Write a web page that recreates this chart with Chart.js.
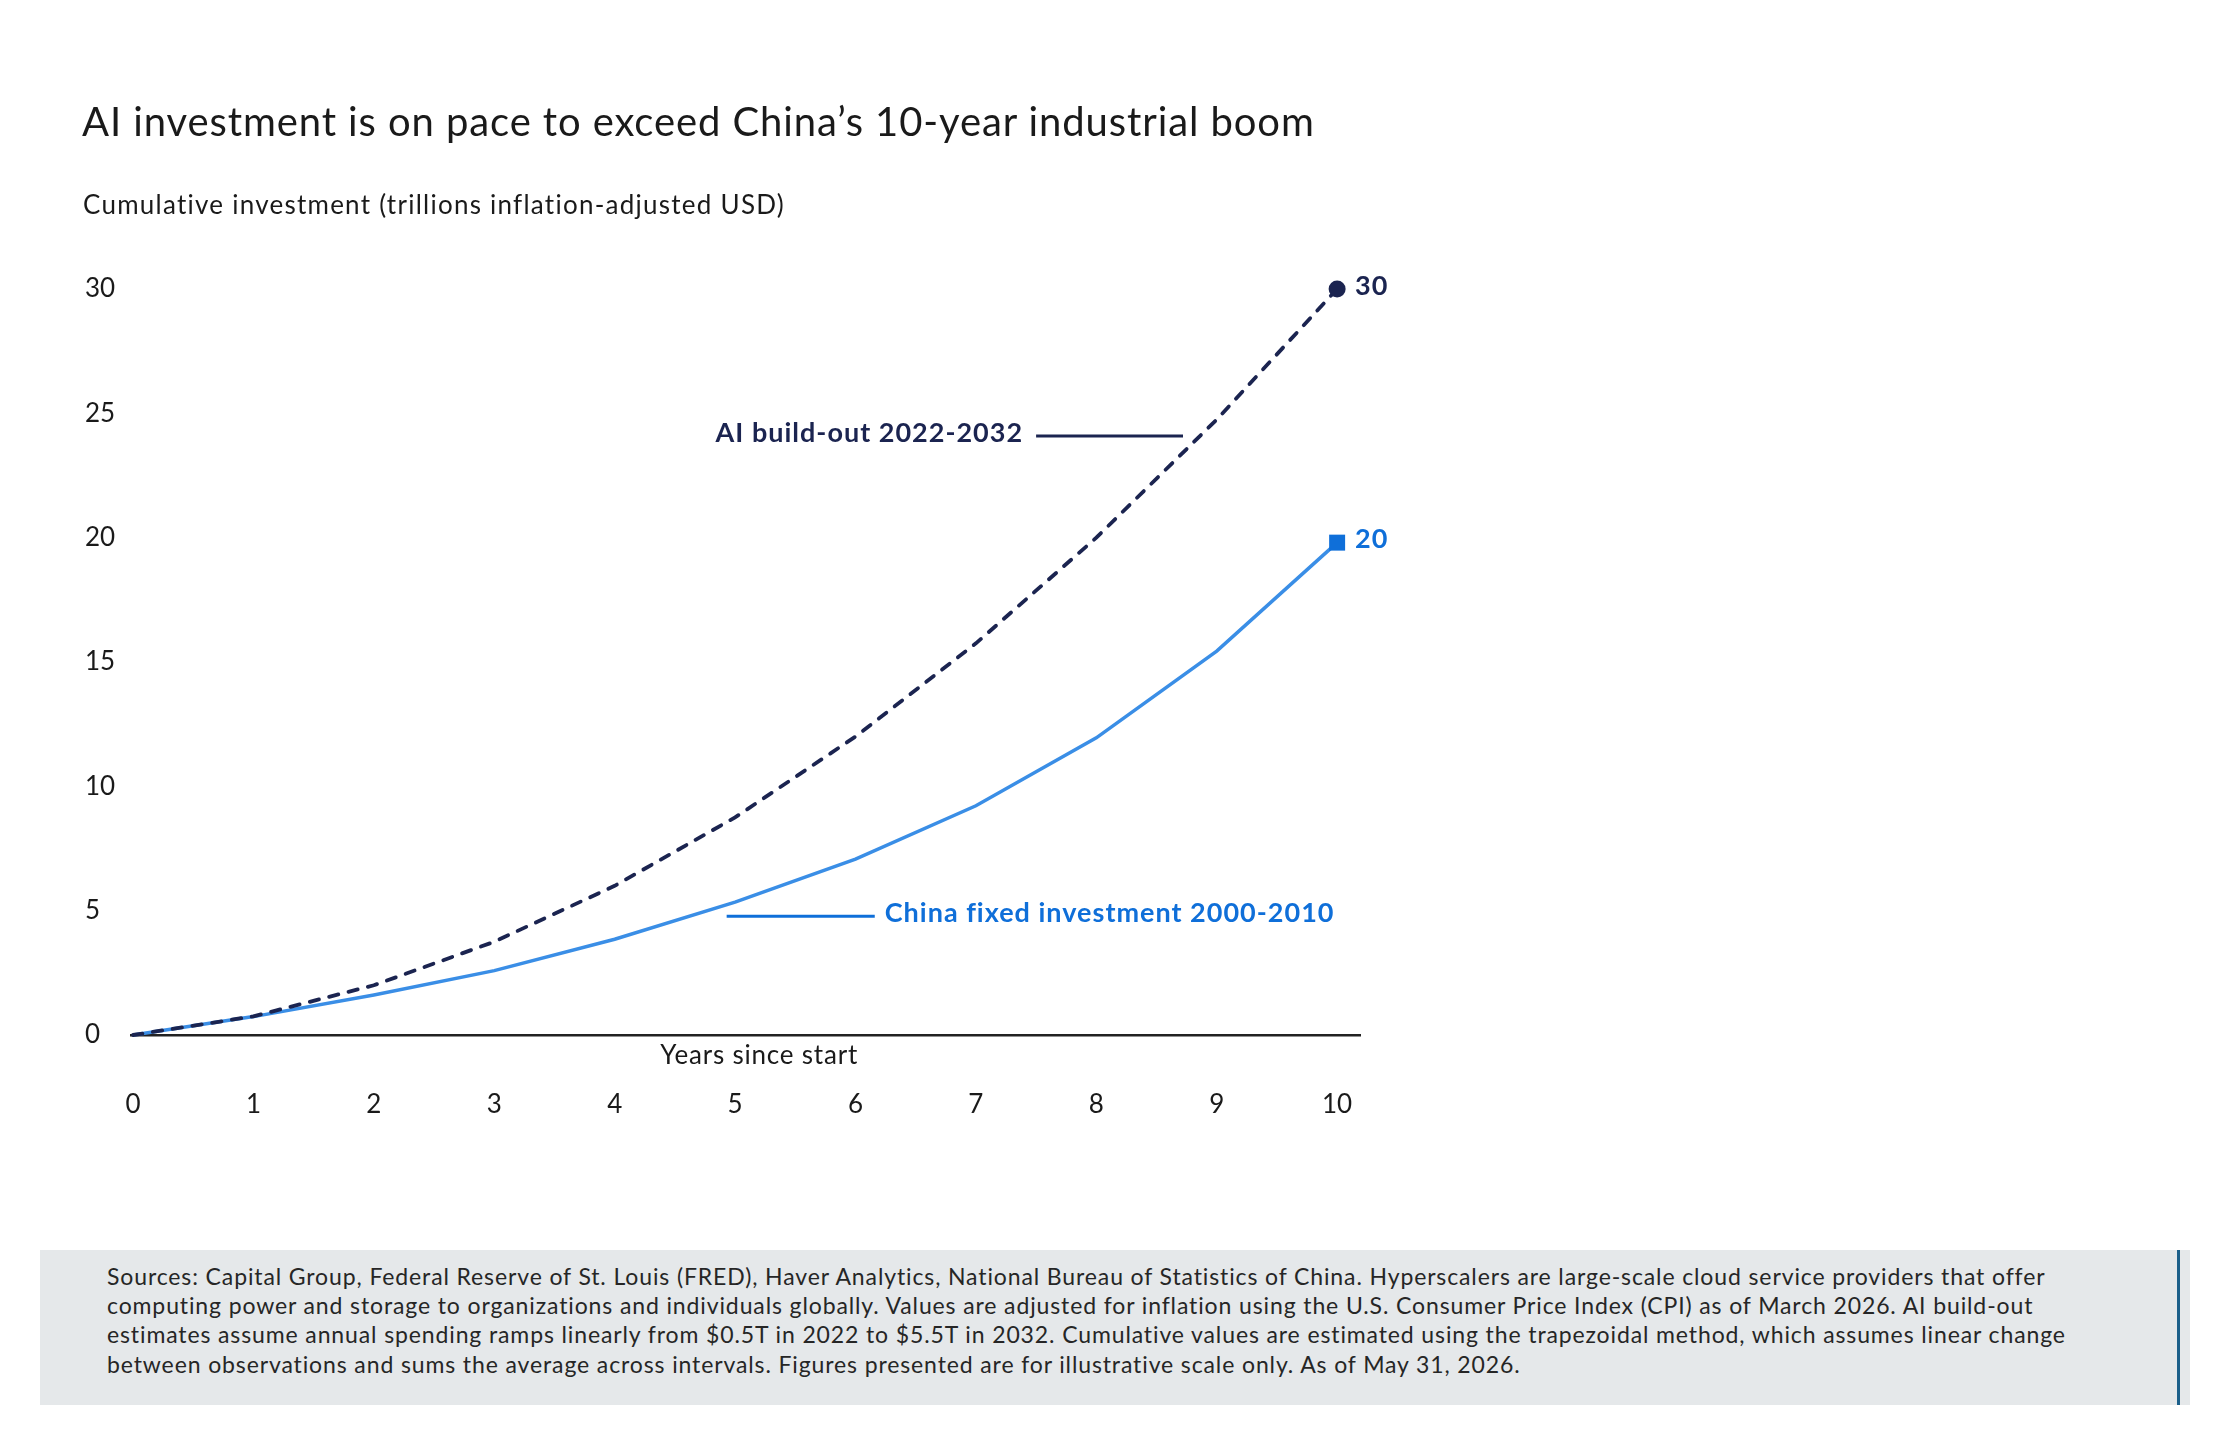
<!DOCTYPE html>
<html>
<head>
<meta charset="utf-8">
<script src="https://cdn.jsdelivr.net/npm/chart.js@4.4.1/dist/chart.umd.min.js"></script>
<style>
  html, body { margin:0; padding:0; background:#ffffff; }
  body { width:2230px; height:1445px; position:relative; overflow:hidden; font-family: Lato, "Noto Sans", sans-serif; }
  #chart { position:absolute; left:0; top:0; }
  #title { position:absolute; left:82px; top:94px; font-size:40px; letter-spacing:0.9px; color:#1a1a1a; white-space:nowrap; line-height:54px; }
  #subtitle { position:absolute; left:83px; top:188px; font-size:26px; letter-spacing:1.25px; color:#1a1a1a; white-space:nowrap; line-height:32px; }
  #footer { position:absolute; left:40px; top:1250px; width:2150px; height:155px; background:#e5e8ea; }
  #footer .txt { position:absolute; left:67px; top:12px; font-size:23px; letter-spacing:0.88px; line-height:29.2px; color:#262626; white-space:nowrap; }
  #footer .bar { position:absolute; left:2137px; top:0; width:3px; height:155px; background:#1b5f8a; }
</style>
</head>
<body>
<canvas id="chart" width="2230" height="1445"></canvas>
<div id="title">AI investment is on pace to exceed China’s 10-year industrial boom</div>
<div id="subtitle">Cumulative investment (trillions inflation-adjusted USD)</div>
<div id="footer">
  <div class="txt">Sources: Capital Group, Federal Reserve of St. Louis (FRED), Haver Analytics, National Bureau of Statistics of China. Hyperscalers are large-scale cloud service providers that offer<br>computing power and storage to organizations and individuals globally. Values are adjusted for inflation using the U.S. Consumer Price Index (CPI) as of March 2026. AI build-out<br>estimates assume annual spending ramps linearly from $0.5T in 2022 to $5.5T in 2032. Cumulative values are estimated using the trapezoidal method, which assumes linear change<br>between observations and sums the average across intervals. Figures presented are for illustrative scale only. As of May 31, 2026.</div>
  <div class="bar"></div>
</div>
<script>
// ---- data ----
const years = [0, 1, 2, 3, 4, 5, 6, 7, 8, 9, 10];
const aiBuildout = [0, 0.75, 2, 3.75, 6, 8.75, 12, 15.75, 20, 24.75, 30];
const chinaFixed = [0, 0.74, 1.61, 2.59, 3.85, 5.34, 7.07, 9.22, 11.95, 15.44, 19.8];
const xTickValues = [0, 1, 2, 3, 4, 5, 6, 7, 8, 9, 10];
const yTickValues = [0, 5, 10, 15, 20, 25, 30];
const aiLabel = "AI build-out 2022-2032";
const chinaLabel = "China fixed investment 2000-2010";
const xAxisTitle = "Years since start";

// ---- styles ----
const NAVY = "#1b2450";
const BLUE_LINE = "#3a8ee6";
const BLUE = "#0f6fd9";
const FONT = "Lato, 'Noto Sans', sans-serif";

// annotation anchors (in data units)
const annotations = [
  { text: aiLabel, color: NAVY, x0: 7.50, x1: 8.72, y: 24.09, side: "left" },
  { text: chinaLabel, color: BLUE, x0: 4.93, x1: 6.16, y: 4.78, side: "right" }
];

const toPts = (ys) => years.map((x, i) => ({ x: x, y: ys[i] }));

const overlay = {
  id: "overlay",
  afterDatasetsDraw(chart) {
    const ctx = chart.ctx;
    const xs = chart.scales.x, ys = chart.scales.y;
    ctx.save();
    // leader lines + labels
    annotations.forEach(a => {
      const px0 = xs.getPixelForValue(a.x0), px1 = xs.getPixelForValue(a.x1);
      const py = ys.getPixelForValue(a.y);
      ctx.strokeStyle = a.color;
      ctx.lineWidth = 3;
      ctx.setLineDash([]);
      ctx.beginPath(); ctx.moveTo(px0, py); ctx.lineTo(px1, py); ctx.stroke();
      ctx.fillStyle = a.color;
      ctx.font = "bold 27px " + FONT;
      ctx.letterSpacing = "1.0px";
      ctx.textBaseline = "middle";
      if (a.side === "left") { ctx.textAlign = "right"; ctx.fillText(a.text, px0 - 13, py - 3); }
      else { ctx.textAlign = "left"; ctx.fillText(a.text, px1 + 10, py - 3); }
    });
    // end value labels
    chart.data.datasets.forEach((ds, i) => {
      const meta = chart.getDatasetMeta(i);
      const last = meta.data[meta.data.length - 1];
      const v = ds.data[ds.data.length - 1].y;
      ctx.fillStyle = ds.labelColor;
      ctx.font = "bold 27px " + FONT;
      ctx.letterSpacing = "1px";
      ctx.textAlign = "left";
      ctx.textBaseline = "middle";
      ctx.fillText(String(Math.round(v)), last.x + 18, last.y - 3);
    });
    // x axis title between axis line and tick labels
    ctx.fillStyle = "#1a1a1a";
    ctx.font = "26px " + FONT;
    ctx.letterSpacing = "0.8px";
    ctx.textAlign = "center";
    ctx.textBaseline = "middle";
    ctx.fillText(xAxisTitle, xs.getPixelForValue(5.2), ys.bottom + 21);
    ctx.restore();
  }
};

new Chart(document.getElementById("chart"), {
  type: "line",
  data: {
    datasets: [
      {
        label: aiLabel,
        data: toPts(aiBuildout),
        borderColor: NAVY,
        borderWidth: 3.8,
        borderDash: [9.5, 10.5],
        borderCapStyle: "round",
        pointRadius: (c) => c.dataIndex === years.length - 1 ? 8.5 : 0,
        pointStyle: "circle",
        pointBackgroundColor: NAVY,
        pointBorderWidth: 0,
        labelColor: NAVY,
        tension: 0,
        clip: false
      },
      {
        label: chinaLabel,
        data: toPts(chinaFixed),
        borderColor: BLUE_LINE,
        borderWidth: 3.5,
        pointRadius: (c) => c.dataIndex === years.length - 1 ? 11.3 : 0,
        pointStyle: "rect",
        pointBackgroundColor: BLUE,
        pointBorderWidth: 0,
        labelColor: BLUE,
        tension: 0,
        clip: false
      }
    ]
  },
  options: {
    responsive: false,
    animation: false,
    devicePixelRatio: 1,
    layout: { padding: { left: 85, right: 870, top: 289, bottom: 330 } },
    plugins: { legend: { display: false }, tooltip: { enabled: false } },
    scales: {
      x: {
        type: "linear",
        min: -0.017,
        max: 10.19,
        grid: { display: false, drawTicks: false },
        border: { display: true, color: "#222222", width: 2.5 },
        afterBuildTicks: (s) => { s.ticks = xTickValues.map(v => ({ value: v })); },
        afterFit: (s) => { s.height = 80; },
        ticks: { autoSkip: false, maxRotation: 0, padding: 54, color: "#1a1a1a", font: { family: FONT, size: 26 } }
      },
      y: {
        type: "linear",
        min: 0,
        max: 30,
        grid: { display: false, drawTicks: false },
        border: { display: false },
        afterBuildTicks: (s) => { s.ticks = yTickValues.map(v => ({ value: v })); },
        afterFit: (s) => { s.width = 46; },
        ticks: { crossAlign: "far", padding: 0, color: "#1a1a1a", font: { family: FONT, size: 26 } }
      }
    }
  },
  plugins: [overlay]
});
</script>
</body>
</html>
